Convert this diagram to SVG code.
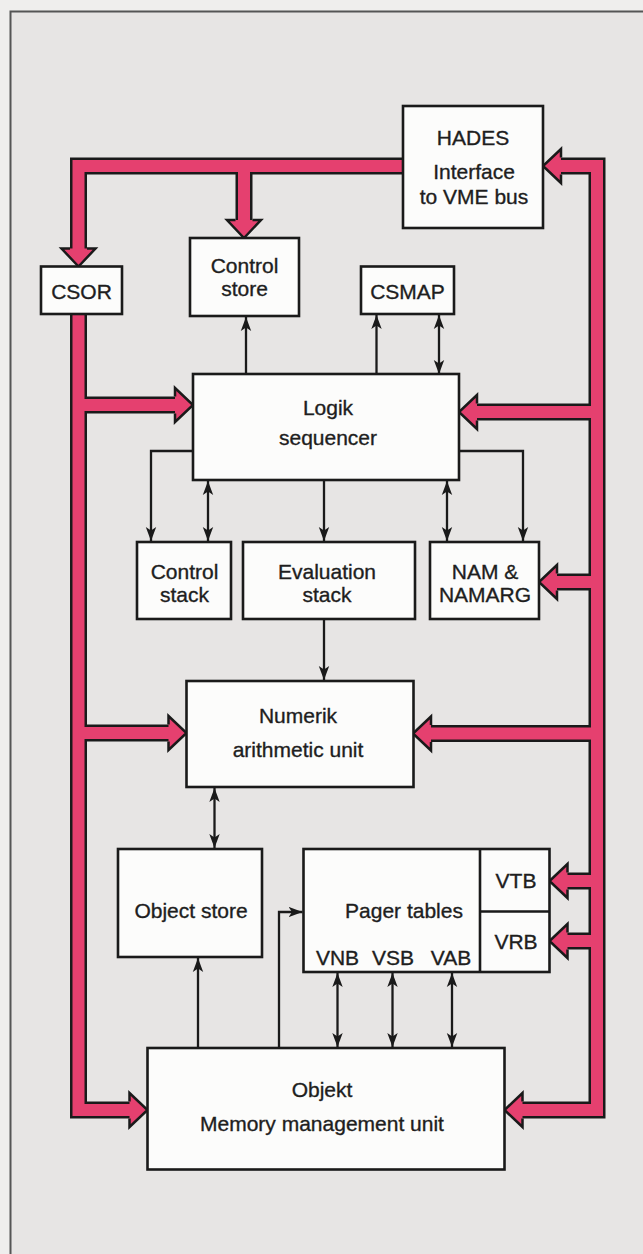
<svg xmlns="http://www.w3.org/2000/svg" width="643" height="1254" viewBox="0 0 643 1254">
<defs>
<style>
.box{fill:#fcfcfb;stroke:#1a1a1a;stroke-width:2.6}
.busO{fill:none;stroke:#1a1a1a;stroke-width:17;stroke-linejoin:miter;stroke-linecap:butt}
.busI{fill:none;stroke:#e5406f;stroke-width:12;stroke-linejoin:miter;stroke-linecap:butt}
.head{fill:#e5406f;stroke:#1a1a1a;stroke-width:2.5;stroke-linejoin:miter}
.ln{fill:none;stroke:#1a1a1a;stroke-width:2.3}
text{font-family:"Liberation Sans",Arial,sans-serif;font-size:21px;fill:#1e1e1e;stroke:#1e1e1e;stroke-width:0.35;text-anchor:middle}
</style>
<marker id="ah" markerUnits="userSpaceOnUse" markerWidth="16" markerHeight="12" refX="14" refY="6" orient="auto-start-reverse" viewBox="0 0 16 12">
<path d="M0,0.8 L14,6 L0,11.2 L3.5,6 z" fill="#1a1a1a"/>
</marker>
</defs>
<rect x="0" y="0" width="643" height="1254" fill="#efeeed"/>
<rect x="10" y="11" width="633" height="1243" fill="#e7e5e4"/>
<path d="M10.5,1254 V11.5 H643" fill="none" stroke="#555" stroke-width="2"/>

<g id="buses">
<g class="busO">
<path d="M404,166 H78.5 V250.5"/>
<path d="M244,166 V222"/>
<path d="M78.5,314 V1110 H131.5"/>
<path d="M78.5,405 H177"/>
<path d="M78.5,733 H170.5"/>
<path d="M559,166 H597 V1110 H520.5"/>
<path d="M597,412 H475"/>
<path d="M597,582 H555"/>
<path d="M597,733.5 H429"/>
<path d="M597,881 H565.5"/>
<path d="M597,941 H565.5"/>
</g>
<g class="busI">
<path d="M404,166 H78.5 V250.5"/>
<path d="M244,166 V222"/>
<path d="M78.5,314 V1110 H131.5"/>
<path d="M78.5,405 H177"/>
<path d="M78.5,733 H170.5"/>
<path d="M559,166 H597 V1110 H520.5"/>
<path d="M597,412 H475"/>
<path d="M597,582 H555"/>
<path d="M597,733.5 H429"/>
<path d="M597,881 H565.5"/>
<path d="M597,941 H565.5"/>
</g>
<g class="head">
<path d="M70,248.5 L61.5,248.5 L78.5,266.5 L95.5,248.5 L87,248.5"/>
<path d="M235.5,220 L227,220 L244,238 L261,220 L252.5,220"/>
<path d="M561,157.5 L561,149 L543,166 L561,183 L561,174.5"/>
<path d="M175,396.5 L175,388 L193,405 L175,422 L175,413.5"/>
<path d="M168.5,724.5 L168.5,716 L186.5,733 L168.5,750 L168.5,741.5"/>
<path d="M129.5,1101.5 L129.5,1093 L147.5,1110 L129.5,1127 L129.5,1118.5"/>
<path d="M477,403.5 L477,395 L459,412 L477,429 L477,420.5"/>
<path d="M557,573.5 L557,565 L539,582 L557,599 L557,590.5"/>
<path d="M431,725 L431,716.5 L413,733.5 L431,750.5 L431,742"/>
<path d="M567.5,872.5 L567.5,864 L549.5,881 L567.5,898 L567.5,889.5"/>
<path d="M567.5,932.5 L567.5,924 L549.5,941 L567.5,958 L567.5,949.5"/>
<path d="M522.5,1101.5 L522.5,1093 L504.5,1110 L522.5,1127 L522.5,1118.5"/>
</g>
</g>

<g id="connectors" class="ln">
<path d="M246,374 V317" marker-end="url(#ah)"/>
<path d="M376.5,374 V315" marker-end="url(#ah)"/>
<path d="M439,374 V315" marker-start="url(#ah)" marker-end="url(#ah)"/>
<path d="M193,451 H151 V541" marker-end="url(#ah)"/>
<path d="M208,481 V541" marker-start="url(#ah)" marker-end="url(#ah)"/>
<path d="M324,481 V541" marker-end="url(#ah)"/>
<path d="M447,481 V541" marker-start="url(#ah)" marker-end="url(#ah)"/>
<path d="M459,451 H523 V541" marker-end="url(#ah)"/>
<path d="M324,620 V680" marker-end="url(#ah)"/>
<path d="M214.5,788 V848" marker-start="url(#ah)" marker-end="url(#ah)"/>
<path d="M198,1047 V958" marker-end="url(#ah)"/>
<path d="M279,1047 V912 H302.5" marker-end="url(#ah)"/>
<path d="M337.5,973 V1047" marker-start="url(#ah)" marker-end="url(#ah)"/>
<path d="M392.5,973 V1047" marker-start="url(#ah)" marker-end="url(#ah)"/>
<path d="M452,973 V1047" marker-start="url(#ah)" marker-end="url(#ah)"/>
</g>

<g id="hades">
<rect class="box" x="403" y="106" width="140" height="122"/>
<text x="473" y="144.5">HADES</text>
<text x="474" y="179">Interface</text>
<text x="474" y="204">to VME bus</text>
</g>
<g id="csor">
<rect class="box" x="41" y="266.5" width="81" height="47.5"/>
<text x="81.5" y="298.5">CSOR</text>
</g>
<g id="control-store">
<rect class="box" x="190" y="238" width="109" height="78"/>
<text x="244.5" y="273">Control</text>
<text x="244.5" y="296">store</text>
</g>
<g id="csmap">
<rect class="box" x="361" y="266.5" width="93" height="47.5"/>
<text x="407.5" y="298.5">CSMAP</text>
</g>
<g id="logik">
<rect class="box" x="193" y="374" width="266" height="106"/>
<text x="328" y="415">Logik</text>
<text x="328" y="445">sequencer</text>
</g>
<g id="control-stack">
<rect class="box" x="137" y="542" width="94" height="77"/>
<text x="184.5" y="579">Control</text>
<text x="184.5" y="602">stack</text>
</g>
<g id="evaluation-stack">
<rect class="box" x="243" y="542" width="172" height="77"/>
<text x="327" y="579">Evaluation</text>
<text x="327" y="602">stack</text>
</g>
<g id="nam">
<rect class="box" x="430" y="542" width="109" height="77"/>
<text x="485" y="579">NAM &amp;</text>
<text x="485" y="602">NAMARG</text>
</g>
<g id="numerik">
<rect class="box" x="186.5" y="681" width="227" height="106"/>
<text x="298" y="722.5">Numerik</text>
<text x="298" y="756.5">arithmetic unit</text>
</g>
<g id="object-store">
<rect class="box" x="118" y="849" width="144" height="108"/>
<text x="191" y="918">Object store</text>
</g>
<g id="pager-tables">
<rect class="box" x="303.5" y="849" width="246" height="123"/>
<path d="M480,849 V972 M480,911.5 H549.5" fill="none" stroke="#1a1a1a" stroke-width="2.6"/>
<text x="404" y="918">Pager tables</text>
<text x="516" y="888">VTB</text>
<text x="516" y="949">VRB</text>
<text x="337.5" y="964.5">VNB</text>
<text x="393" y="964.5">VSB</text>
<text x="451" y="964.5">VAB</text>
</g>
<g id="objekt">
<rect class="box" x="147.5" y="1048" width="357" height="121.5"/>
<text x="322" y="1097">Objekt</text>
<text x="322" y="1131">Memory management unit</text>
</g>
</svg>
